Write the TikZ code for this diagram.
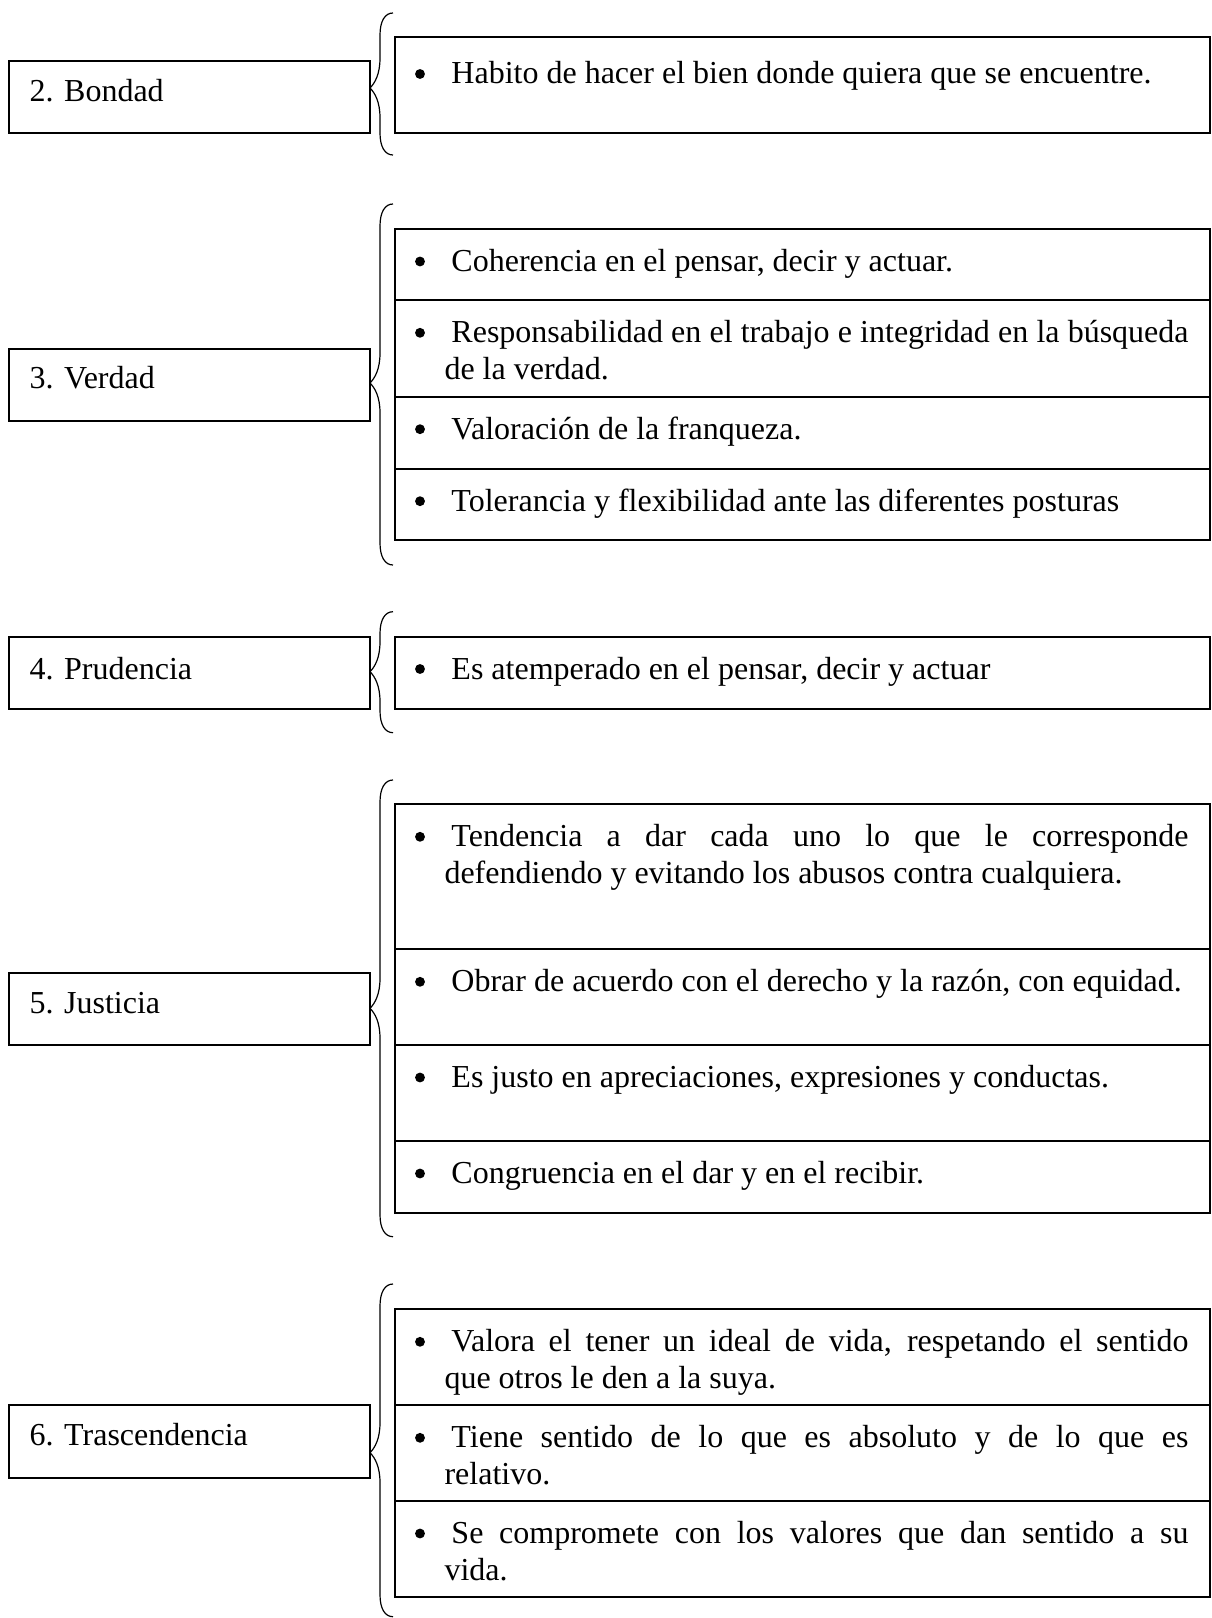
\documentclass[tikz,border=0pt]{standalone}
\usepackage{fontspec}
\setmainfont{Liberation Serif}
\tolerance=9999
\hyphenpenalty=10000
\newcommand\curlybrace[3]{%
  \draw[bracel] (393,#1) .. controls (385,#1) and (380,#1+8) .. (380,#1+22)
    -- (380,#2-30) .. controls (380,#2-14) and (375,#2-5) .. (370,#2)
    .. controls (375,#2+5) and (380,#2+14) .. (380,#2+30)
    -- (380,#3-22) .. controls (380,#3-8) and (385,#3) .. (393,#3);}
\begin{document}
\begin{tikzpicture}[x=0.375pt,y=-0.375pt,
  boxl/.style={draw, line width=0.75pt, inner sep=0pt, anchor=north west},
  sz/.style 2 args={minimum width=#1*0.375pt, minimum height=#2*0.375pt},
  lbl/.style={anchor=base west, inner sep=0pt, font=\fontsize{12pt}{13.9pt}\selectfont},
  itm/.style={anchor=base west, inner sep=0pt, text width=279pt, align=justify, font=\fontsize{12pt}{13.9pt}\selectfont},
  bulletdot/.style={circle, fill=black, inner sep=0pt, minimum size=3.7pt},
  bracel/.style={line width=0.45pt}]
\useasboundingbox (0,0) rectangle (1211,1618);

% ---- 2. Bondad
\node[boxl, sz={361}{72}] (b2) at (8,60) {};
\node[lbl] (t2) at (29,101.5) {2. Bondad};
\node[boxl, sz={815}{96}] (b2a) at (394,36) {};
\node[bulletdot] (d2a) at (420,74) {};
\node[itm] (t2a) at (444,84) {\hspace*{2.6pt}Habito de hacer el bien donde quiera que se encuentre.};
\curlybrace{13}{88}{155}

% ---- 3. Verdad
\node[boxl, sz={361}{72.3}] (b3) at (8,347.7) {};
\node[lbl] (t3) at (29,389) {3. Verdad};
\node[boxl, sz={815}{71.3}] (b3a) at (394,228) {};
\node[boxl, sz={815}{96.4}] (b3b) at (394,299.3) {};
\node[boxl, sz={815}{72}] (b3c) at (394,395.7) {};
\node[boxl, sz={815}{71.6}] (b3d) at (394,467.7) {};
\node[bulletdot] (d3a) at (420,261.5) {};
\node[bulletdot] (d3b) at (420,332.8) {};
\node[bulletdot] (d3c) at (420,429.2) {};
\node[bulletdot] (d3d) at (420,501.2) {};
\node[itm] (t3a) at (444,271.5) {\hspace*{2.6pt}Coherencia en el pensar, decir y actuar.};
\node[itm] (t3b) at (444,342.8) {\hspace*{2.6pt}Responsabilidad en el trabajo e integridad en la búsqueda\linebreak de la verdad.};
\node[itm] (t3c) at (444,439.2) {\hspace*{2.6pt}Valoración de la franqueza.};
\node[itm] (t3d) at (444,511.2) {\hspace*{2.6pt}Tolerancia y flexibilidad ante las diferentes posturas};
\curlybrace{204}{383}{565}

% ---- 4. Prudencia
\node[boxl, sz={361}{72}] (b4) at (8,636) {};
\node[lbl] (t4) at (29,679) {4. Prudencia};
\node[boxl, sz={815}{72}] (b4a) at (394,636) {};
\node[bulletdot] (d4a) at (420,669) {};
\node[itm] (t4a) at (444,679) {\hspace*{2.6pt}Es atemperado en el pensar, decir y actuar};
\curlybrace{611.7}{671.7}{732.7}

% ---- 5. Justicia
\node[boxl, sz={361}{72.6}] (b5) at (8,971.7) {};
\node[lbl] (t5) at (29,1013.3) {5. Justicia};
\node[boxl, sz={815}{145}] (b5a) at (394,803.3) {};
\node[boxl, sz={815}{95.7}] (b5b) at (394,948.3) {};
\node[boxl, sz={815}{96}] (b5c) at (394,1044) {};
\node[boxl, sz={815}{72.3}] (b5d) at (394,1140) {};
\node[bulletdot] (d5a) at (420,836.8) {};
\node[bulletdot] (d5b) at (420,981.8) {};
\node[bulletdot] (d5c) at (420,1077.5) {};
\node[bulletdot] (d5d) at (420,1173.5) {};
\node[itm] (t5a) at (444,846.8) {\hspace*{2.6pt}Tendencia a dar cada uno lo que le corresponde\linebreak defendiendo y evitando los abusos contra cualquiera.};
\node[itm] (t5b) at (444,991.8) {\hspace*{2.6pt}Obrar de acuerdo con el derecho y la razón, con equidad.};
\node[itm] (t5c) at (444,1087.5) {\hspace*{2.6pt}Es justo en apreciaciones, expresiones y conductas.};
\node[itm] (t5d) at (444,1183.5) {\hspace*{2.6pt}Congruencia en el dar y en el recibir.};
\curlybrace{780}{1008.3}{1236.7}

% ---- 6. Trascendencia
\node[boxl, sz={361}{72.4}] (b6) at (8,1404.3) {};
\node[lbl] (t6) at (29,1445) {6. Trascendencia};
\node[boxl, sz={815}{96}] (b6a) at (394,1308.3) {};
\node[boxl, sz={815}{95.7}] (b6b) at (394,1404.3) {};
\node[boxl, sz={815}{96}] (b6c) at (394,1500) {};
\node[bulletdot] (d6a) at (420,1341.8) {};
\node[bulletdot] (d6b) at (420,1437.8) {};
\node[bulletdot] (d6c) at (420,1533.5) {};
\node[itm] (t6a) at (444,1351.8) {\hspace*{2.6pt}Valora el tener un ideal de vida, respetando el sentido\linebreak que otros le den a la suya.};
\node[itm] (t6b) at (444,1447.8) {\hspace*{2.6pt}Tiene sentido de lo que es absoluto y de lo que es\linebreak relativo.};
\node[itm] (t6c) at (444,1543.5) {\hspace*{2.6pt}Se compromete con los valores que dan sentido a su\linebreak vida.};
\curlybrace{1284}{1452.7}{1616.7}
\end{tikzpicture}
\end{document}
